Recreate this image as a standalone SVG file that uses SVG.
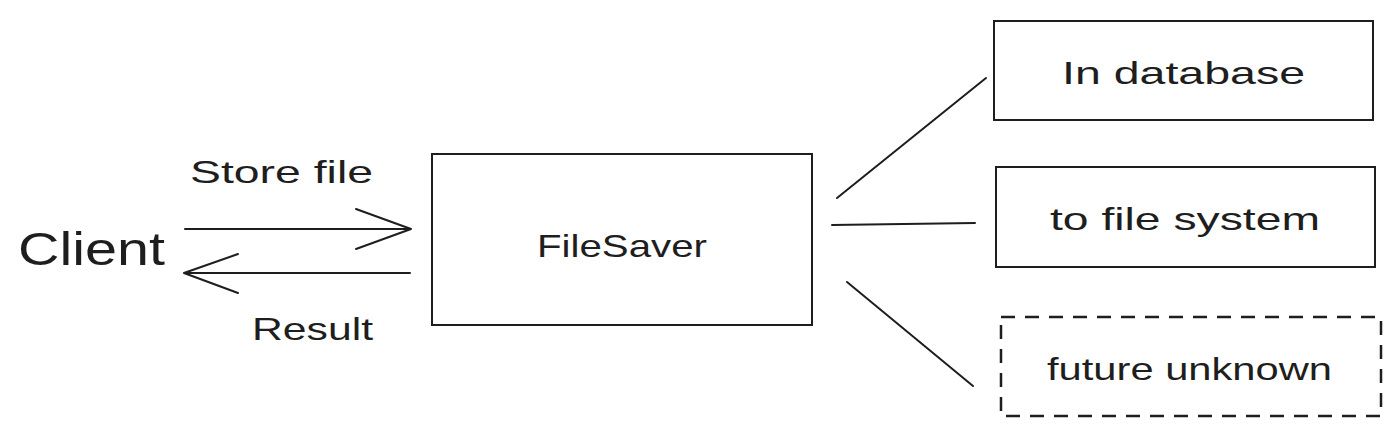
<svg xmlns="http://www.w3.org/2000/svg" width="1400" height="437" viewBox="0 0 1400 437">
<style>
.box{fill:#fff;stroke:#1e1e1e;stroke-width:2}
.dash{fill:#fff;stroke:#1e1e1e;stroke-width:2.5;stroke-dasharray:14 10}
.ln{fill:none;stroke:#1e1e1e;stroke-width:2;stroke-linecap:round;stroke-linejoin:round}
text{font-family:"Liberation Sans","DejaVu Sans",sans-serif;fill:#1e1e1e}
.t{font-size:32px}
</style>
<rect width="1400" height="437" fill="#fff"/>
<g id="connectors">
<path class="ln" d="M185 229 L411 229 M356 209 L411 229 L356 249"/>
<path class="ln" d="M410 273 L184 273 M238 254 L184 273 L238 293"/>
<path class="ln" d="M837 198 L986 78"/>
<path class="ln" d="M832 225 L975 223"/>
<path class="ln" d="M847 282 L973 386"/>
</g>
<g id="client"><text x="18" y="265" font-size="46" textLength="147" lengthAdjust="spacingAndGlyphs">Client</text></g>
<g id="label-store"><text class="t" x="190" y="183" textLength="183" lengthAdjust="spacingAndGlyphs">Store file</text></g>
<g id="label-result"><text class="t" x="252" y="340" textLength="121" lengthAdjust="spacingAndGlyphs">Result</text></g>
<g id="filesaver">
<rect class="box" x="432" y="154" width="380" height="171"/>
<text class="t" x="537" y="257" textLength="170" lengthAdjust="spacingAndGlyphs">FileSaver</text>
</g>
<g id="in-database">
<rect class="box" x="994" y="21" width="379" height="99"/>
<text class="t" x="1062" y="84" textLength="243" lengthAdjust="spacingAndGlyphs">In database</text>
</g>
<g id="to-file-system">
<rect class="box" x="996" y="167" width="379" height="100"/>
<text class="t" x="1050" y="230" textLength="270" lengthAdjust="spacingAndGlyphs">to file system</text>
</g>
<g id="future-unknown">
<rect class="dash" x="1001" y="317" width="380" height="99"/>
<text class="t" x="1047" y="380" textLength="285" lengthAdjust="spacingAndGlyphs">future unknown</text>
</g>
</svg>
